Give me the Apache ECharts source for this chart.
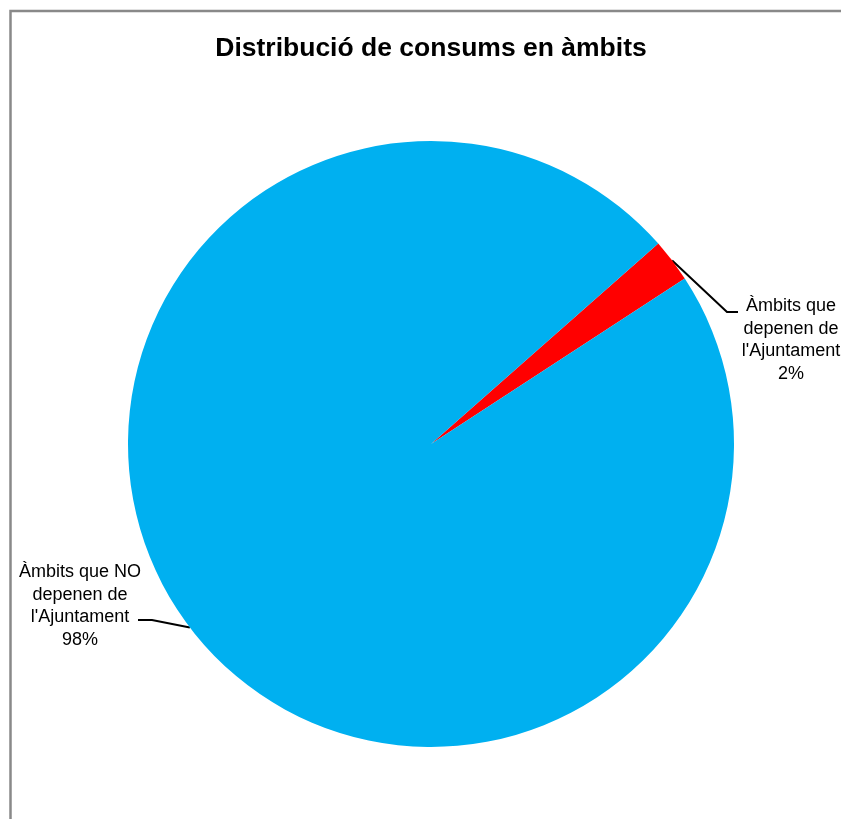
<!DOCTYPE html>
<html><head><meta charset="utf-8">
<script src="https://cdn.jsdelivr.net/npm/echarts@6/dist/echarts.min.js"></script>
<style>html,body{margin:0;padding:0;background:#fff}#c{width:841px;height:819px}</style>
</head><body><div id="c"></div>
<script>
const chartTitle = 'Distribució de consums en àmbits';
const categories = ["Àmbits que\ndepenen de\nl'Ajuntament", "Àmbits que NO\ndepenen de\nl'Ajuntament"];
const values = [2.3, 97.7];
const colors = ['#FF0000', '#00B0F0'];

// label placement (style only)
const labelPlacement = [
  { x: 791, y: 340, lineDy: -28, bendDx: -64, endDx: -53 },
  { x: 80, y: 606, lineDy: 14, bendDx: 72, endDx: 58 }
];

const total = values.reduce((a, b) => a + b, 0);
const font = '"Liberation Sans", Arial, sans-serif';

const chart = echarts.init(document.getElementById('c'), null, { renderer: 'canvas' });
chart.setOption({
  backgroundColor: '#fff',
  animation: false,
  title: {
    text: chartTitle,
    left: 426, top: 30, textAlign: 'center',
    textStyle: { fontFamily: font, fontSize: 26.5, fontWeight: 'bold', color: '#000' }
  },
  graphic: [{
    type: 'rect', silent: true, z: -10,
    shape: { x: 10.5, y: 11, width: 1000, height: 1000 },
    style: { fill: 'none', stroke: '#898989', lineWidth: 2.5 }
  }],
  series: [{
    type: 'pie',
    center: [431, 444],
    radius: [0, 303],
    startAngle: 41.4,
    clockwise: true,
    avoidLabelOverlap: false,
    data: categories.map((n, i) => ({ name: n, value: values[i], itemStyle: { color: colors[i] } })),
    label: {
      show: true, position: 'outside',
      fontFamily: font, fontSize: 18, lineHeight: 22.5, color: '#000', align: 'center',
      formatter: p => p.name + '\n' + Math.round(p.value / total * 100) + '%'
    },
    labelLine: { show: true, length: 10, length2: 10, lineStyle: { color: '#000', width: 2 } },
    labelLayout: function (p) {
      const pl = labelPlacement[p.dataIndex];
      const a = p.labelLinePoints ? p.labelLinePoints[0] : [pl.x, pl.y];
      const ly = pl.y + pl.lineDy;
      return {
        x: pl.x, y: pl.y, align: 'center', verticalAlign: 'middle',
        labelLinePoints: [a, [pl.x + pl.bendDx, ly], [pl.x + pl.endDx, ly]]
      };
    },
    itemStyle: { borderWidth: 0 },
    emphasis: { disabled: true }
  }]
});
</script>
</body></html>
